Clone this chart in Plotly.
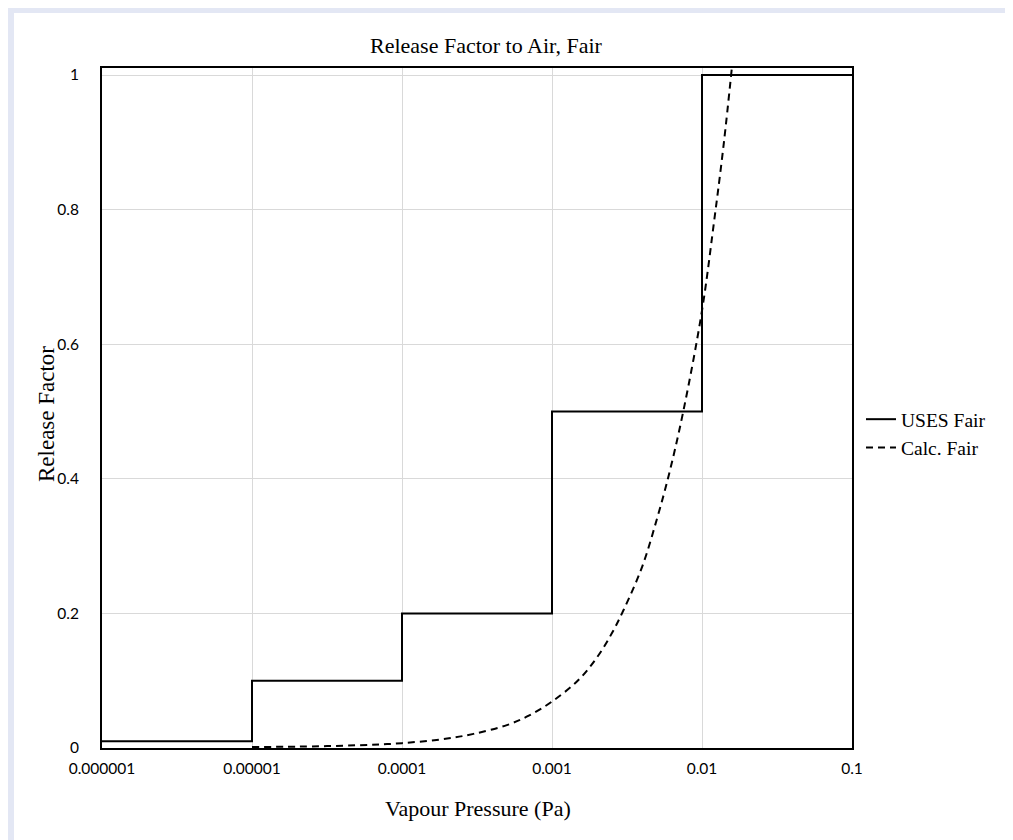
import plotly.graph_objects as go

# Data
uses_x = [0.000001, 0.00001, 0.0001, 0.001, 0.01, 0.1]
uses_y = [0.01, 0.1, 0.2, 0.5, 1.0, 1.0]

calc_x = [0.00001, 0.00002, 0.00005, 0.0001, 0.0002, 0.0003, 0.0005, 0.0007,
          0.001, 0.0015, 0.002, 0.0025, 0.003, 0.004, 0.005, 0.006,
          0.0075, 0.01, 0.012, 0.014, 0.0158]
calc_y = [0.0015, 0.002, 0.004, 0.0072, 0.014, 0.021, 0.034, 0.048,
          0.069, 0.101, 0.135, 0.17, 0.205, 0.27, 0.34, 0.405,
          0.5, 0.65, 0.78, 0.9, 1.01]

x_tickvals = [0.000001, 0.00001, 0.0001, 0.001, 0.01, 0.1]
x_ticktext = ["0.000001", "0.00001", "0.0001", "0.001", "0.01", "0.1"]
y_tickvals = [0, 0.2, 0.4, 0.6, 0.8, 1]
y_ticktext = ["0", "0.2", "0.4", "0.6", "0.8", "1"]

serif = "Liberation Serif, Times New Roman, serif"
sans = "Lato, Open Sans, sans-serif"

fig = go.Figure()
fig.add_trace(go.Scatter(x=uses_x, y=uses_y, mode="lines", name="USES Fair",
                         line=dict(color="black", width=2, shape="hv")))
fig.add_trace(go.Scatter(x=calc_x, y=calc_y, mode="lines", name="Calc. Fair",
                         line=dict(color="black", width=2, dash="7px,5px", shape="spline")))

# figure pixel geometry (page body adds an 8px offset)
W, H = 1005, 832
L, T = 94, 60
R = W - 844
B = H - 740
pw, ph = W - L - R, H - T - B

def px(xp):
    return (xp - L) / pw

def py(yp):
    return (H - B - yp) / ph

lav = "#e3e7f4"

fig.update_layout(
    width=W, height=H,
    margin=dict(l=L, r=R, t=T, b=B, autoexpand=False),
    paper_bgcolor="white", plot_bgcolor="white",
    showlegend=True,
    legend=dict(x=px(853), y=py(392), xanchor="left", yanchor="top",
                font=dict(family=serif, size=19.5, color="black"),
                bgcolor="rgba(0,0,0,0)", tracegroupgap=4),
    xaxis=dict(type="log", range=[-6, -1], tickvals=x_tickvals, ticktext=x_ticktext,
               showgrid=True, gridcolor="#d9d9d9", gridwidth=1,
               showline=True, linecolor="black", linewidth=2, mirror=True,
               ticks="", ticklabelstandoff=5,
               tickfont=dict(family=sans, size=15.5, color="black"),
               zeroline=False),
    yaxis=dict(range=[0, 1.0104], tickvals=y_tickvals, ticktext=y_ticktext,
               showgrid=True, gridcolor="#d9d9d9", gridwidth=1,
               showline=True, linecolor="black", linewidth=2, mirror=True,
               ticks="", ticklabelstandoff=18,
               tickfont=dict(family=sans, size=15.5, color="black"),
               zeroline=False),
    annotations=[
        dict(text="Release Factor to Air, Fair", xref="paper", yref="paper",
             x=px(478), y=py(38), xanchor="center", yanchor="middle",
             showarrow=False, font=dict(family=serif, size=22, color="black")),
        dict(text="Vapour Pressure (Pa)", xref="paper", yref="paper",
             x=px(470), y=py(801), xanchor="center", yanchor="middle",
             showarrow=False, font=dict(family=serif, size=22, color="black")),
        dict(text="Release Factor", xref="paper", yref="paper", textangle=-90,
             x=px(38), y=py(406), xanchor="center", yanchor="middle",
             showarrow=False, font=dict(family=serif, size=23, color="black")),
    ],
    shapes=[
        dict(type="rect", xref="paper", yref="paper", layer="below",
             x0=px(0), x1=px(6), y0=py(H), y1=py(0),
             fillcolor=lav, line=dict(width=0)),
        dict(type="rect", xref="paper", yref="paper", layer="below",
             x0=px(0), x1=px(W), y0=py(5), y1=py(0),
             fillcolor=lav, line=dict(width=0)),
    ],
)

fig.write_html("out.html")
